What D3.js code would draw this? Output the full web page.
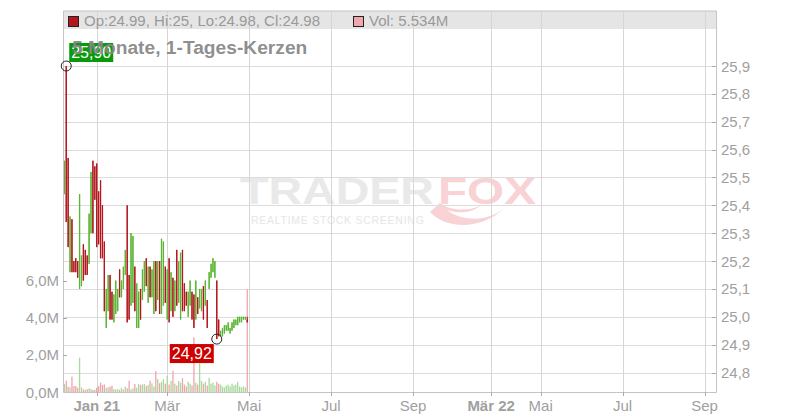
<!DOCTYPE html>
<html><head><meta charset="utf-8">
<script src="https://cdn.jsdelivr.net/npm/d3@7"></script>
<style>html,body{margin:0;padding:0;background:#fff;} svg{display:block;font-family:"Liberation Sans",Arial,sans-serif;}</style>
</head><body><svg id="c" width="800" height="420"></svg>
<script>
// ---- data ----
const open = [
 25.44,25.90,25.57,25.16,25.35,25.20,25.21,25.20,25.10,25.11,
 25.26,25.24,25.22,25.19,25.30,25.56,25.54,25.55,25.45,25.49,
 25.40,25.27,24.96,25.02,25.15,25.09,24.98,25.01,25.02,25.17,
 25.07,25.10,25.15,25.40,25.15,25.04,25.05,25.18,24.96,24.96,
 25.10,25.06,25.09,25.21,25.05,25.18,25.07,25.01,25.20,25.06,
 25.20,
 25.01,25.04,25.18,24.99,25.21,25.02,25.14,25.02,25.24,25.05,
 24.99,25.24,25.12,25.09,25.00,25.04,25.09,25.08,24.99,25.07,
 25.03,25.02,25.11,25.04,25.06,25.10,25.14,25.16,25.14,25.13,
 24.99,24.93,24.93,24.94,24.95,24.95,24.94,24.95,24.96,24.97,
 24.97,24.98,24.98,24.99,24.99,24.99];
const close = [
 25.56,25.34,25.25,25.36,25.16,25.16,25.16,25.14,25.44,25.22,
 25.13,25.15,25.15,25.37,25.52,25.30,25.42,25.25,25.26,25.21,
 25.21,25.02,25.10,25.15,24.99,24.99,25.08,25.13,25.10,25.07,
 25.13,25.18,25.24,24.98,24.99,25.30,25.29,25.02,25.12,25.09,
 24.99,25.17,25.20,25.11,25.18,25.07,25.17,25.20,25.02,25.20,
 25.01,
 25.28,25.27,25.05,25.17,24.98,25.16,25.00,25.13,25.04,25.20,
 25.23,25.02,25.02,25.04,25.09,25.13,24.99,24.96,25.13,25.01,
 25.10,25.10,24.99,25.13,24.96,25.16,25.19,25.21,25.20,24.92,
 24.93,24.95,24.96,24.97,24.97,24.98,24.96,24.98,24.99,24.99,
 25.00,25.00,25.00,25.00,25.00,24.98];
const high = [
 25.56,25.90,25.57,25.36,25.35,25.20,25.21,25.20,25.44,25.22,
 25.26,25.24,25.22,25.37,25.52,25.56,25.54,25.55,25.45,25.49,
 25.40,25.27,25.10,25.15,25.15,25.09,25.08,25.13,25.10,25.17,
 25.13,25.18,25.24,25.40,25.15,25.30,25.29,25.18,25.12,25.09,
 25.10,25.17,25.20,25.21,25.18,25.18,25.17,25.20,25.20,25.20,
 25.20,
 25.28,25.27,25.18,25.17,25.21,25.16,25.14,25.13,25.24,25.20,
 25.23,25.24,25.12,25.09,25.09,25.13,25.09,25.08,25.13,25.07,
 25.10,25.10,25.11,25.13,25.06,25.16,25.19,25.21,25.20,25.13,
 24.99,24.95,24.96,24.97,24.97,24.98,24.96,24.98,24.99,24.99,
 25.00,25.00,25.00,25.00,25.00,25.00];
const low = [
 25.44,25.34,25.25,25.16,25.16,25.16,25.16,25.14,25.10,25.11,
 25.13,25.15,25.15,25.19,25.30,25.30,25.42,25.25,25.26,25.21,
 25.21,25.02,24.96,25.02,24.99,24.99,24.98,25.01,25.02,25.07,
 25.07,25.10,25.15,24.98,24.99,25.04,25.05,25.02,24.96,24.96,
 24.99,25.06,25.09,25.11,25.05,25.07,25.07,25.01,25.02,25.06,
 25.01,
 25.01,25.04,25.05,24.99,24.98,25.02,25.00,25.02,25.04,25.05,
 24.99,25.02,25.02,25.04,25.00,25.04,24.99,24.96,24.99,25.01,
 25.03,25.02,24.99,25.04,24.96,25.10,25.14,25.16,25.14,24.92,
 24.93,24.93,24.93,24.94,24.95,24.95,24.94,24.95,24.96,24.97,
 24.97,24.98,24.98,24.99,24.99,24.98];
const volumeM = [
 0.43,0.61,0.29,0.25,0.83,0.32,0.32,0.23,1.85,0.25,
 0.14,0.11,0.15,0.20,0.16,0.11,0.11,0.23,0.32,0.50,
 0.38,0.41,0.23,0.25,0.29,0.34,0.16,0.14,0.16,0.11,
 0.23,0.14,0.29,0.20,0.61,0.14,0.20,0.43,0.23,0.43,
 0.38,0.41,0.43,0.32,0.38,0.61,0.47,0.30,1.13,0.70,
 0.47,
 0.55,0.70,0.45,0.87,0.40,0.60,1.15,0.45,0.35,0.60,
 0.50,0.75,0.40,0.30,0.55,0.45,0.35,2.95,0.50,0.40,
 1.55,0.60,0.45,0.55,0.35,0.75,0.45,0.50,0.35,0.55,
 0.45,0.40,0.30,0.25,0.35,0.40,0.30,0.45,0.35,0.40,
 0.55,0.30,0.25,0.30,0.25,5.534];
const tickLabels = ["Jan 21","Mär","Mai","Jul","Sep","Mär 22","Mai","Jul","Sep"];
const tickSlots  = [17,54,97,140,183,224,250,293,336];
const tickBold   = [true,false,false,false,false,true,false,false,false];
const priceTicks = [24.8,24.9,25.0,25.1,25.2,25.3,25.4,25.5,25.6,25.7,25.8,25.9];
const volTicks = [0,2,4,6];
const title = "5 Monate, 1-Tages-Kerzen";

// ---- layout ----
const L=63, R=716, T=11, B=392, HB=29;
const RED="#b3161c", GREEN="#5ab532", VRED="#f1a4ac", VGREEN="#a9d99c";
const svg = d3.select("#c");
const n = Math.min(open.length, close.length, high.length, low.length, volumeM.length);
const idx = d3.range(n);

const x = d3.scaleLinear().domain([-0.7, 342]).range([L, R]);
const yP = d3.scaleLinear().domain([24.8, 25.9]).range([372.5, 66]);
const yV = d3.scaleLinear().domain([0, 6]).range([B, B - 6*18.55]);
const fmtP = v => d3.format(".1f")(v).replace(".", ",");
const fmtV = v => d3.format(".1f")(v).replace(".", ",") + "M";
const fmt2 = v => d3.format(".2f")(v).replace(".", ",");

svg.append("rect").attr("width",800).attr("height",420).attr("fill","#fff");

// watermark
const wm = svg.append("g");
wm.append("text").attr("x",240).attr("y",203.5).attr("font-size",37).attr("font-weight","bold")
  .attr("textLength",194).attr("lengthAdjust","spacingAndGlyphs").attr("fill","#e9e9e9").text("TRADER");
wm.append("text").attr("x",438).attr("y",203.5).attr("font-size",37).attr("font-weight","bold")
  .attr("textLength",98).attr("lengthAdjust","spacingAndGlyphs").attr("fill","#f9d2d5").text("FOX");
wm.append("text").attr("x",251).attr("y",223.5).attr("font-size",10.5).attr("letter-spacing",3.2)
  .attr("textLength",176).attr("lengthAdjust","spacing").attr("fill","#e6e6e6").text("REALTIME STOCK SCREENING");
wm.append("path").attr("d","M430,212 C446,230 484,230 505,207 C490,222 462,222 447,210 C458,214 472,213 480,206 C466,212 448,210 440,203 Z")
  .attr("fill","#f9d2d5");

// header band
svg.append("rect").attr("x",L).attr("y",T).attr("width",R-L).attr("height",HB-T).attr("fill","#e5e5e5");

// grid
svg.append("g").selectAll("line").data(priceTicks).join("line")
  .attr("x1",L).attr("x2",R).attr("y1",d=>Math.round(yP(d))+0.5).attr("y2",d=>Math.round(yP(d))+0.5)
  .attr("stroke","#dcdcdc");
svg.append("g").selectAll("line").data(tickSlots).join("line")
  .attr("x1",d=>Math.round(x(d))+0.5).attr("x2",d=>Math.round(x(d))+0.5).attr("y1",T).attr("y2",B)
  .attr("stroke","#d6d6d6");

// volume bars
svg.append("g").selectAll("rect").data(idx).join("rect")
  .attr("x",i=>x(i)-0.65).attr("width",1.3)
  .attr("y",i=>yV(volumeM[i])).attr("height",i=>B-yV(volumeM[i]))
  .attr("fill",i=> close[i] >= open[i] ? VGREEN : VRED);

// candles
const cg = svg.append("g");
cg.selectAll("line").data(idx).join("line")
  .attr("x1",i=>x(i)).attr("x2",i=>x(i)).attr("y1",i=>yP(high[i])).attr("y2",i=>yP(low[i]))
  .attr("stroke",i=> close[i] >= open[i] ? GREEN : RED).attr("stroke-width",1);
cg.selectAll("rect").data(idx).join("rect")
  .attr("x",i=>x(i)-0.65).attr("width",1.3)
  .attr("y",i=>yP(Math.max(open[i],close[i])))
  .attr("height",i=>Math.max(1,Math.abs(yP(open[i])-yP(close[i]))))
  .attr("fill",i=> close[i] >= open[i] ? GREEN : RED);

// frame
svg.append("path").attr("d",`M${L+0.5},${T} V${B+0.5} H${R+0.5} V${T} H${L+0.5}`)
  .attr("fill","none").attr("stroke","#c4c4c4");

// right price axis
const ra = svg.append("g");
ra.selectAll("line").data(priceTicks).join("line")
  .attr("x1",R-4).attr("x2",R).attr("y1",d=>Math.round(yP(d))+0.5).attr("y2",d=>Math.round(yP(d))+0.5).attr("stroke","#aaa");
ra.selectAll("text").data(priceTicks).join("text")
  .attr("x",R+5).attr("y",d=>yP(d)+5.5).attr("font-size",15).attr("fill","#a0a0a0").text(fmtP);

// left volume axis
const la = svg.append("g");
la.selectAll("line").data(volTicks.slice(1)).join("line")
  .attr("x1",L).attr("x2",L+4).attr("y1",d=>Math.round(yV(d))+0.5).attr("y2",d=>Math.round(yV(d))+0.5).attr("stroke","#aaa");
la.selectAll("text").data(volTicks).join("text")
  .attr("x",59).attr("y",d=>yV(d)+5.5).attr("text-anchor","end").attr("font-size",15).attr("fill","#a0a0a0").text(fmtV);

// bottom axis
const ba = svg.append("g");
ba.selectAll("line").data(tickSlots).join("line")
  .attr("x1",d=>Math.round(x(d))+0.5).attr("x2",d=>Math.round(x(d))+0.5).attr("y1",B).attr("y2",B+4).attr("stroke","#aaa");
ba.selectAll("text").data(tickLabels).join("text")
  .attr("x",(d,i)=>x(tickSlots[i])).attr("y",411).attr("text-anchor","middle").attr("font-size",15)
  .attr("font-weight",(d,i)=>tickBold[i]?"bold":"normal").attr("fill","#a0a0a0").text(d=>d);

// header legend
const last = n-1;
svg.append("rect").attr("x",68.5).attr("y",16.5).attr("width",10).attr("height",10)
  .attr("fill", close[last]>=open[last]?GREEN:RED).attr("stroke","#222");
svg.append("text").attr("x",84).attr("y",26).attr("font-size",15).attr("fill","#999")
  .text(`Op:${open[last]}, Hi:${high[last].toFixed(2).replace(/\.?0+$/,"")}, Lo:${low[last]}, Cl:${close[last]}`);
svg.append("rect").attr("x",353.5).attr("y",16.5).attr("width",10).attr("height",10)
  .attr("fill","#f0a7b0").attr("stroke","#222");
svg.append("text").attr("x",369).attr("y",26).attr("font-size",15).attr("fill","#999")
  .text(`Vol: ${volumeM[last]}M`);

// max / min markers
const iMax = d3.maxIndex(high), iMin = d3.minIndex(low);
const mx = x(iMax), my = yP(high[iMax]);
svg.append("rect").attr("x",mx+3).attr("y",my-23).attr("width",44).attr("height",19).attr("fill","#0a990a");
svg.append("text").attr("x",mx+25).attr("y",my-8).attr("text-anchor","middle").attr("font-size",16).attr("fill","#fff").text(fmt2(high[iMax]));
const nx = x(iMin), ny = yP(low[iMin]);
svg.append("rect").attr("x",nx-47).attr("y",ny+5).attr("width",44).attr("height",19).attr("fill","#cc0000");
svg.append("text").attr("x",nx-25).attr("y",ny+20).attr("text-anchor","middle").attr("font-size",16).attr("fill","#fff").text(fmt2(low[iMin]));
svg.append("circle").attr("cx",mx).attr("cy",my).attr("r",5).attr("fill","none").attr("stroke","#222");
svg.append("circle").attr("cx",nx).attr("cy",ny).attr("r",5).attr("fill","none").attr("stroke","#222");

// title
svg.append("text").attr("x",72).attr("y",54).attr("font-size",19.2).attr("font-weight","bold")
  .attr("fill","#888").attr("fill-opacity",0.95).text(title);
</script></body></html>
